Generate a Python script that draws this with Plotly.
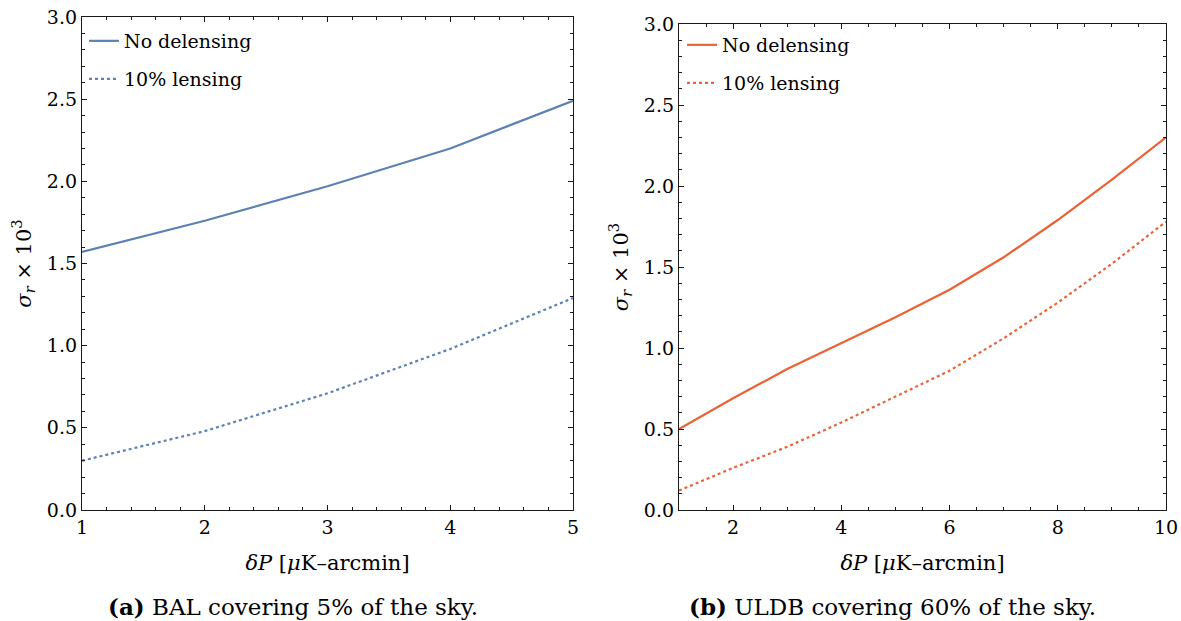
import plotly.graph_objects as go

# ---- data ----
x_bal = [1, 2, 3, 4, 5]
bal_no_delens = [1.57, 1.76, 1.97, 2.20, 2.49]
bal_10pct = [0.30, 0.48, 0.71, 0.98, 1.29]

x_uldb = [1, 2, 3, 4, 5, 6, 7, 8, 9, 10]
uldb_no_delens = [0.50, 0.69, 0.87, 1.03, 1.19, 1.36, 1.56, 1.79, 2.04, 2.30]
uldb_10pct = [0.12, 0.26, 0.39, 0.54, 0.70, 0.86, 1.06, 1.28, 1.52, 1.78]

names = ["No delensing", "10% lensing"]
captions = ["<b>(a)</b> BAL covering 5% of the sky.",
            "<b>(b)</b> ULDB covering 60% of the sky."]
xtitle = "<i>δP</i> [<i>μ</i>K–arcmin]"
ytitle = "<i>σ</i><sub><i>r</i></sub> × 10<sup>3</sup>"

BLUE = "#5E81B5"
ORANGE = "#EB6235"
FONT = "DejaVu Serif"
FRAME = "#1a1a1a"

W, H = 1181, 621

fig = go.Figure()
fig.add_trace(go.Scatter(x=x_bal, y=bal_no_delens, mode="lines", name=names[0],
                         line=dict(color=BLUE, width=2.2), xaxis="x", yaxis="y", legend="legend"))
fig.add_trace(go.Scatter(x=x_bal, y=bal_10pct, mode="lines", name=names[1],
                         line=dict(color=BLUE, width=2.2, dash="dot"), xaxis="x", yaxis="y", legend="legend2"))
fig.add_trace(go.Scatter(x=x_uldb, y=uldb_no_delens, mode="lines", name=names[0],
                         line=dict(color=ORANGE, width=2.2), xaxis="x2", yaxis="y2", legend="legend3"))
fig.add_trace(go.Scatter(x=x_uldb, y=uldb_10pct, mode="lines", name=names[1],
                         line=dict(color=ORANGE, width=2.2, dash="dot"), xaxis="x2", yaxis="y2", legend="legend4"))

def px(v):
    return v / W

def py(v):
    return 1 - v / H

axis_common = dict(showline=True, linecolor=FRAME, linewidth=1.3, mirror="allticks",
                   ticks="inside", ticklen=5, tickwidth=1, tickcolor=FRAME,
                   showgrid=False, zeroline=False, automargin=False,
                   tickfont=dict(family=FONT, size=19, color="black"),
                   title_font=dict(family=FONT, size=21, color="black"))

fig.update_layout(
    width=W, height=H, margin=dict(l=0, r=0, t=0, b=0, autoexpand=False),
    paper_bgcolor="white", plot_bgcolor="white", showlegend=True,
    font=dict(family=FONT, size=19, color="black"),
    xaxis=dict(domain=[px(82), px(573)], range=[1, 5], dtick=1, tick0=1,
               minor=dict(dtick=0.2, ticks="inside", ticklen=2.5, tickcolor=FRAME, showgrid=False),
               title=dict(text=xtitle, standoff=18), anchor="y", **axis_common),
    yaxis=dict(domain=[py(510), py(17)], range=[0, 3], dtick=0.5, tick0=0, tickformat=".1f",
               minor=dict(dtick=0.1, ticks="inside", ticklen=2.5, tickcolor=FRAME, showgrid=False),
               title=dict(text=ytitle, standoff=9), anchor="x", **axis_common),
    xaxis2=dict(domain=[px(679), px(1166)], range=[1, 10], dtick=2, tick0=0,
                minor=dict(dtick=0.5, tick0=0, ticks="inside", ticklen=2.5, tickcolor=FRAME, showgrid=False),
                title=dict(text=xtitle, standoff=18), anchor="y2", **axis_common),
    yaxis2=dict(domain=[py(510), py(24)], range=[0, 3], dtick=0.5, tick0=0, tickformat=".1f",
                minor=dict(dtick=0.1, ticks="inside", ticklen=2.5, tickcolor=FRAME, showgrid=False),
                title=dict(text=ytitle, standoff=9), anchor="x2", **axis_common),
)

leg_common = dict(bgcolor="rgba(0,0,0,0)", borderwidth=0, xanchor="left", yanchor="middle",
                  font=dict(family=FONT, size=19, color="black"), itemwidth=30, visible=True)
fig.update_layout(
    legend=dict(x=px(84), y=py(41), **leg_common),
    legend2=dict(x=px(84), y=py(79), **leg_common),
    legend3=dict(x=px(682), y=py(45), **leg_common),
    legend4=dict(x=px(682), y=py(83), **leg_common),
)

fig.add_annotation(text=captions[0], x=px(293), y=py(606), xref="paper", yref="paper",
                   showarrow=False, xanchor="center", yanchor="middle",
                   font=dict(family=FONT, size=23, color="black"))
fig.add_annotation(text=captions[1], x=px(892), y=py(606), xref="paper", yref="paper",
                   showarrow=False, xanchor="center", yanchor="middle",
                   font=dict(family=FONT, size=23, color="black"))

fig.write_html("out.html")
